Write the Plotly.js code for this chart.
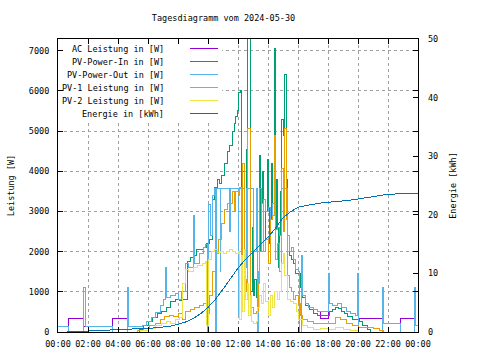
<!DOCTYPE html>
<html><head><meta charset="utf-8">
<script src="https://cdn.plot.ly/plotly-3.0.1.min.js"></script>
<style>
html,body{margin:0;padding:0;background:#fff}
#chart{width:480px;height:360px}
#chart .scatterlayer .js-line{shape-rendering:crispEdges}
#chart .gridlayer path{shape-rendering:crispEdges}
#chart .layer-above path{shape-rendering:crispEdges}
</style>
</head><body><div id="chart"></div>
<script>
// ---- data (time in hours of 2024-05-30) ----
const names = ['AC Leistung in [W]', 'PV-Power-In in [W]', 'PV-Power-Out in [W]', 'PV-1 Leistung in [W]', 'PV-2 Leistung in [W]', 'Energie in [kWh]'];
const colors = ['#9400d3', '#009e73', '#56b4e9', '#e69f00', '#f0e442', '#0072b2'];
const hourTicks = [0, 2, 4, 6, 8, 10, 12, 14, 16, 18, 20, 22, 24];
const hourLabels = ['00:00','02:00','04:00','06:00','08:00','10:00','12:00','14:00','16:00','18:00','20:00','22:00','00:00'];
const powerTicks = [0,1000,2000,3000,4000,5000,6000,7000];
const energyTicks = [0,10,20,30,40,50];

const tOut = [0,0.67,1.72,1.8,3.6,4.6,4.68,5.6,5.9,6.2,6.5,6.8,7.0,7.15,7.25,7.5,7.8,8.0,8.2,8.5,8.7,9.0,9.1,9.4,9.7,9.8,9.95,10.05,10.15,10.3,10.45,10.5,10.55,10.8,10.85,11.45,11.5,12.0,12.05,12.2,12.3,12.4,12.55,12.85,13.0,13.2,13.3,13.35,13.45,13.55,13.7,13.85,14.0,14.15,14.3,14.4,14.5,14.6,14.75,14.9,15.2,15.3,15.4,15.55,15.7,15.85,16.0,16.1,16.2,16.3,16.5,16.7,17.0,17.3,17.5,18.0,18.1,18.3,18.6,18.9,19.2,19.5,19.8,19.95,20.05,21.6,21.7,21.8,22.8,23.75,23.85,24];
const pvOut = [140,0,1100,140,0,1100,140,150,250,350,480,650,800,1600,850,900,950,800,1000,1700,1600,2900,1700,1950,2100,2170,0,3170,2400,3400,3570,0,3570,1500,3570,2500,3570,400,3570,1550,3570,1600,3570,3570,2000,3570,0,1500,3570,3200,3300,3000,3100,2800,3200,3570,2540,2600,2400,3570,3570,2400,2000,2100,1800,1550,1500,0,1900,900,700,600,550,520,500,1450,700,650,720,600,500,450,400,1450,0,1100,200,200,0,1100,150,150];
const acPower = [140,340,140,140,340,140,140,150,250,350,480,650,800,950,850,900,950,800,1000,1700,1600,2900,1700,1950,2100,2170,0,3170,2400,3400,3570,0,3570,1500,3570,2500,3570,400,3570,1550,3570,1600,3570,3570,2000,3570,0,1500,3570,3200,3300,3000,3100,2800,3200,3570,2540,2600,2400,3570,3570,2400,2000,2100,1800,1550,1500,0,1900,900,700,600,550,520,340,1450,700,650,720,600,500,450,400,1450,340,1100,200,200,340,1100,150,150];

const tIn = [0,5.2,5.4,5.7,6.0,6.3,6.6,6.9,7.2,7.5,7.8,8.1,8.3,8.6,8.8,9.0,9.2,9.5,9.7,9.9,10.1,10.3,10.45,10.6,10.75,10.9,11.1,11.3,11.45,11.6,11.75,11.85,11.95,12.05,12.15,12.2,12.3,12.4,12.55,12.65,12.75,12.85,12.95,13.0,13.1,13.2,13.35,13.45,13.5,13.55,13.65,13.7,13.8,13.85,13.95,14.0,14.1,14.15,14.25,14.3,14.4,14.5,14.55,14.6,14.7,14.75,14.85,14.9,15.0,15.1,15.2,15.3,15.4,15.55,15.7,15.85,16.0,16.15,16.3,16.5,16.75,17.0,17.3,17.6,17.9,18.1,18.3,18.5,18.7,18.9,19.1,19.3,19.6,19.9,20.1,20.3,20.6,20.8,24];
const pvIn = [0,0,60,150,250,350,450,520,620,760,800,780,820,1750,1850,1900,2050,2050,2100,2200,2300,3300,3600,3800,3700,3900,4200,4500,4650,5000,5200,5350,5500,5950,6000,1550,4000,1600,4550,7300,7300,1000,2600,900,1300,870,1500,4400,2000,3200,4000,3300,2000,3000,4300,3100,2200,2800,4200,3200,7050,2540,3800,2600,1600,2400,3500,5290,4900,6400,3800,2400,1900,1800,1700,1450,1450,1100,850,650,550,450,420,400,420,500,550,620,580,500,450,380,320,300,250,150,60,0,0];

const tPv1 = [0,5.0,5.3,5.7,6.1,6.5,6.8,7.1,7.4,7.7,8.0,8.3,8.5,8.8,9.1,9.4,9.7,9.9,10.1,10.3,10.47,10.7,10.93,11.13,11.3,11.6,11.75,11.85,12.0,12.1,12.2,12.3,12.4,12.55,12.65,12.75,12.85,13.0,13.2,13.35,13.45,13.55,13.7,13.85,14.0,14.15,14.3,14.4,14.5,14.6,14.75,14.9,15.0,15.1,15.2,15.3,15.4,15.55,15.7,15.85,16.0,16.15,16.3,16.6,17.0,17.5,18.0,18.5,18.8,19.2,19.6,20.0,20.5,21.0,21.4,21.7,24];
const pv1 = [0,0,30,80,150,220,300,380,420,380,450,300,500,560,600,650,700,450,900,1500,1950,2300,2700,3040,3200,3490,3000,3500,3400,3600,700,4200,1300,1000,5060,5060,600,450,500,1200,2000,3200,2000,2300,1700,2800,2900,4900,1800,2200,1500,4060,2500,5060,2800,1400,1100,1000,800,900,700,400,300,250,220,200,220,350,300,200,150,120,100,80,40,0,0];

const tPv2 = [0,5.2,5.5,6.0,6.5,6.9,7.2,7.5,7.8,8.1,8.3,8.5,8.7,9.0,9.3,9.6,9.8,9.9,10.0,10.2,10.4,10.6,10.8,11.0,11.2,11.4,11.6,11.8,12.0,12.1,12.2,12.3,12.4,12.5,12.6,12.7,12.8,12.9,13.0,13.2,13.3,13.4,13.55,13.7,13.85,14.0,14.15,14.3,14.45,14.6,14.75,14.9,15.0,15.1,15.3,15.5,15.7,15.9,16.05,16.3,16.6,17.0,17.5,18.0,18.5,19.0,19.5,20.0,24];
const pv2 = [0,0,30,80,150,200,260,220,300,350,1200,1550,1500,1600,1650,1700,1750,150,1800,2000,2050,1980,2000,1950,2000,2050,2000,1950,2000,300,1900,500,2050,800,1200,400,900,250,200,250,600,900,700,1200,750,400,900,600,1000,800,1000,1700,1950,1400,800,750,700,500,300,150,100,70,80,60,100,50,30,0,0];

const tEnergy = [0.6,1,2,3,4,4.8,5.5,6,6.5,7,7.5,8,8.5,9,9.5,10,10.5,11,11.5,12,12.5,13,13.5,14,14.5,15,15.5,16,16.5,17,17.5,18,18.5,19,19.5,20,21,22,23,24];
const energy = [0,0.05,0.1,0.25,0.4,0.5,0.55,0.6,0.7,0.85,1.0,1.3,1.7,2.3,3.1,4.2,5.6,7.3,9.1,10.9,12.4,13.6,14.9,16.2,17.7,19.5,20.5,21.3,21.6,21.8,22.0,22.1,22.2,22.35,22.5,22.7,23.1,23.5,23.6,23.7];

// ---- chart ----
const FONT = {family: '"DejaVu Sans Mono", monospace', size: 8.5, color: '#000'};
const series = [[tOut, acPower], [tIn, pvIn], [tOut, pvOut], [tPv1, pv1], [tPv2, pv2]];
const traces = series.map((s, i) => ({
  type: 'scatter', mode: 'lines', x: s[0], y: s[1], name: names[i],
  line: {color: colors[i], width: 1, shape: 'hv'}, hoverinfo: 'skip'
}));
traces.push({type: 'scatter', mode: 'lines', x: tEnergy, y: energy, yaxis: 'y2', name: names[5],
  line: {color: colors[5], width: 1}, hoverinfo: 'skip'});

const plotTop = 39, plotBottom = 332, plotLeft = 58, plotRight = 418;
const ph = plotBottom - plotTop, pw = plotRight - plotLeft;
const px = v => (v - plotLeft) / pw;
const py = v => (plotBottom - v) / ph;

const shapes = [{type: 'rect', xref: 'paper', yref: 'paper', x0: px(64), x1: px(222), y0: py(121), y1: py(45),
  fillcolor: '#ffffff', line: {width: 0}, layer: 'above'}];
const annotations = [];
names.forEach((n, i) => {
  const yy = 48.5 + 13 * i;
  annotations.push({xref: 'paper', yref: 'paper', x: px(166), y: py(yy), xanchor: 'right', yanchor: 'middle',
    text: n, showarrow: false, font: FONT});
  shapes.push({type: 'line', xref: 'paper', yref: 'paper', x0: px(190), x1: px(218), y0: py(yy), y1: py(yy),
    line: {color: colors[i], width: 1}, layer: 'above'});
});

const gridStyle = {showgrid: true, gridcolor: '#a0a0a0', gridwidth: 1, griddash: '3px,3px'};
const layout = {
  width: 480, height: 360,
  margin: {l: plotLeft, r: 480 - plotRight, t: plotTop, b: 360 - plotBottom, pad: 0},
  paper_bgcolor: '#ffffff', plot_bgcolor: '#ffffff', font: FONT, showlegend: false,
  title: {text: 'Tagesdiagramm vom 2024-05-30', x: 223.5 / 480, xanchor: 'center', y: 1 - 18 / 360, yanchor: 'middle', font: FONT},
  xaxis: Object.assign({range: [0, 24], tickmode: 'array', tickvals: hourTicks, ticktext: hourLabels,
    ticks: 'inside', ticklen: 5, tickcolor: '#000', showline: true, linecolor: '#000', linewidth: 1, mirror: 'ticks',
    zeroline: false, ticklabelstandoff: 4}, gridStyle),
  yaxis: Object.assign({range: [0, 7290], tickmode: 'array', tickvals: powerTicks,
    ticks: 'inside', ticklen: 5, tickcolor: '#000', showline: true, linecolor: '#000', linewidth: 1, mirror: 'ticks',
    zeroline: false, ticklabelstandoff: 6,
    title: {text: 'Leistung [W]', font: FONT, standoff: 12}}, gridStyle),
  yaxis2: {overlaying: 'y', side: 'right', range: [0, 50], tickmode: 'array', tickvals: energyTicks,
    ticks: 'inside', ticklen: 5, tickcolor: '#000', showline: false, showgrid: false, zeroline: false,
    ticklabelstandoff: 9, title: {text: 'Energie [kWh]', font: FONT, standoff: 12}},
  shapes: shapes, annotations: annotations
};
Plotly.newPlot('chart', traces, layout, {staticPlot: true, displayModeBar: false});
</script></body></html>
